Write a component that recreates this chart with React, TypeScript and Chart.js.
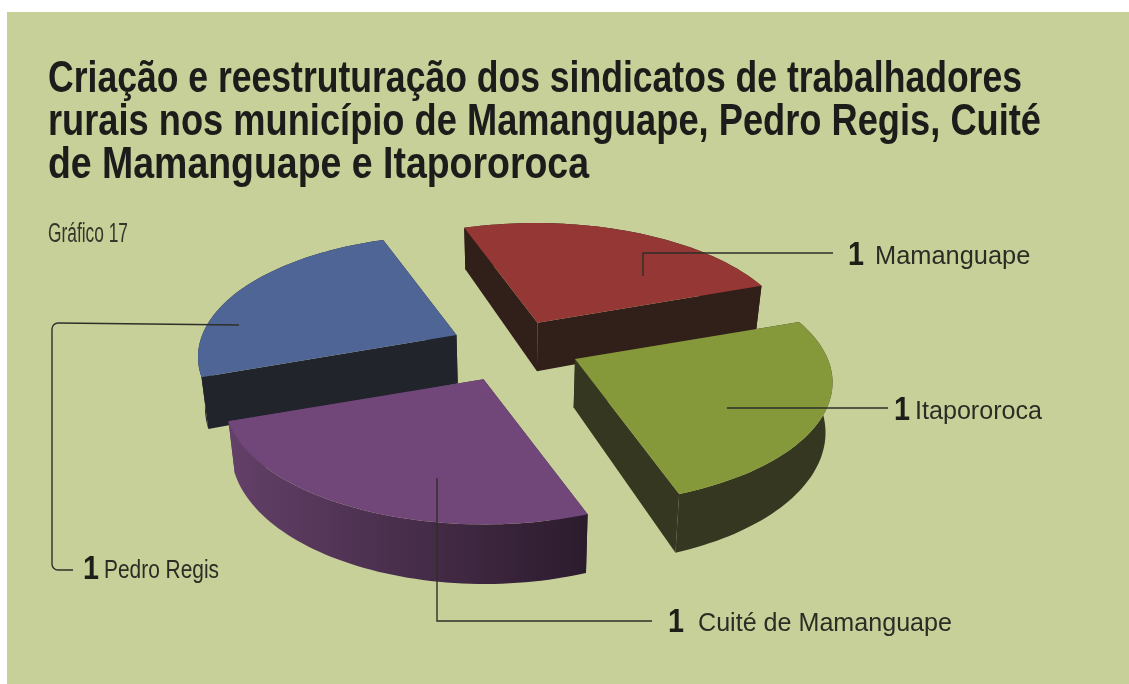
import React, { useEffect, useRef } from "react";
import { Chart, registerables } from "chart.js";

Chart.register(...registerables);

const categories = ["Mamanguape", "Itapororoca", "Cuité de Mamanguape", "Pedro Regis"];
const values = [1, 1, 1, 1];
const topColors = ["#953735", "#86993a", "#71477a", "#4f6596"];
const titleLines = [
  "Criação e reestruturação dos sindicatos de trabalhadores",
  "rurais nos município de Mamanguape, Pedro Regis, Cuité",
  "de Mamanguape e Itapororoca",
];
const chartNote = "Gráfico 17";

// Title layout: baseline and fitted width of each line
const titleBaselines = [92, 135, 178];
const titleWidths = [974, 993, 541];

// Colour of the extruded wall of each slice: [left end, right end]
const sideColors = [
  ["#302019", "#302019"],
  ["#353720", "#353720"],
  ["#634068", "#2c1b2d"],
  ["#22242b", "#22242b"],
];
// Back-to-front painting order of slices
const paintOrder = [0, 3, 1, 2];

// Camera used to project the flat pie onto the tilted page
const EX = [238.5, -39.4];
const EY = [86, 111.5];
const PERSP_X = 0.0647;
const PERSP_Y = 0.174;
const EXPLODE = 0.255;
const DEPTH = 48.5;
const CONVERGE = 0.022;
// Small per-slice placement corrections of the exploded slices
const sliceNudge = [
  [-3, 1],
  [3.5, -3],
  [-2, 3],
  [2, -1],
];

// Callouts: leader line route, then where the value and the name are written
const callouts = [
  { path: [[643, 276], [643, 253], [833, 253]], corner: 0, valueX: 848, nameX: 875, base: 264, nameW: 157 },
  { path: [[727, 408], [888, 408]], corner: 0, valueX: 894, nameX: 915, base: 419, nameW: 127 },
  { path: [[437, 478], [437, 621], [652, 621]], corner: 0, valueX: 668, nameX: 698, base: 631, nameW: 254 },
  { path: [[239, 325], [52, 323], [52, 570], [73, 570]], corner: 6, valueX: 83, nameX: 104, base: 578, nameW: 115 },
];

const project = (ox: number, oy: number, i: number, mid: number, theta: number, r: number) => {
  const sx = ox + sliceNudge[i][0] + (EX[0] * Math.cos(mid) + EY[0] * Math.sin(mid)) * EXPLODE;
  const sy = oy + sliceNudge[i][1] + (EX[1] * Math.cos(mid) + EY[1] * Math.sin(mid)) * EXPLODE;
  const X = r * Math.cos(theta);
  const Y = r * Math.sin(theta);
  const w = 1 + PERSP_X * X - PERSP_Y * Y;
  const x = sx + (X * EX[0] + Y * EY[0]) / w;
  const y = sy + (X * EX[1] + Y * EY[1]) / w;
  return { x, y, bx: x - (x - ox) * CONVERGE, by: y + DEPTH / w };
};

const fillPoly = (ctx: any, poly: number[][]) => {
  ctx.beginPath();
  poly.forEach((p, k) => (k ? ctx.lineTo(p[0], p[1]) : ctx.moveTo(p[0], p[1])));
  ctx.closePath();
  ctx.fill();
};

const pie3d = {
  id: "pie3d",
  beforeDraw(chart: any) {
    const { ctx, width, height } = chart;
    ctx.save();
    ctx.fillStyle = "#ffffff";
    ctx.fillRect(0, 0, width, height);
    ctx.fillStyle = "#c8d09a";
    ctx.fillRect(7, 12, width - 7, height - 12);
    ctx.restore();
  },
  beforeDatasetsDraw(chart: any) {
    const { ctx } = chart;
    const arcs = chart.getDatasetMeta(0).data;
    ctx.save();
    paintOrder.forEach((i) => {
      const el = arcs[i];
      const ox = el.x;
      const oy = el.y;
      const a0 = el.startAngle;
      const a1 = el.endAngle;
      const mid = (a0 + a1) / 2;
      const apex = project(ox, oy, i, mid, a0, 0);
      const rim = [];
      const n = 60;
      for (let k = 0; k <= n; k++) rim.push(project(ox, oy, i, mid, a0 + ((a1 - a0) * k) / n, 1));
      const xs = rim.map((p) => p.x);
      const grad = ctx.createLinearGradient(Math.min(...xs), 0, Math.max(...xs), 0);
      grad.addColorStop(0, sideColors[i][0]);
      grad.addColorStop(1, sideColors[i][1]);
      ctx.fillStyle = grad;
      const first = rim[0];
      const last = rim[n];
      fillPoly(ctx, [[apex.x, apex.y], [first.x, first.y], [first.bx, first.by], [apex.bx, apex.by]]);
      fillPoly(ctx, [[apex.x, apex.y], [last.x, last.y], [last.bx, last.by], [apex.bx, apex.by]]);
      fillPoly(ctx, [...rim.map((p) => [p.x, p.y]), ...rim.slice().reverse().map((p) => [p.bx, p.by])]);
      ctx.fillStyle = el.options.backgroundColor;
      fillPoly(ctx, [[apex.x, apex.y], ...rim.map((p) => [p.x, p.y])]);
    });
    ctx.restore();
    return false;
  },
  afterDraw(chart: any) {
    const { ctx } = chart;
    ctx.save();
    ctx.textBaseline = "alphabetic";
    ctx.fillStyle = "#1c1d1a";
    ctx.font = 'bold 44.5px "Liberation Sans"';
    titleLines.forEach((line, i) => ctx.fillText(line, 48, titleBaselines[i], titleWidths[i]));
    ctx.strokeStyle = "#2e2f28";
    ctx.lineWidth = 1.4;
    callouts.forEach((c, i) => {
      ctx.beginPath();
      ctx.moveTo(c.path[0][0], c.path[0][1]);
      for (let k = 1; k < c.path.length - 1; k++) {
        ctx.arcTo(c.path[k][0], c.path[k][1], c.path[k + 1][0], c.path[k + 1][1], c.corner);
      }
      const last = c.path[c.path.length - 1];
      ctx.lineTo(last[0], last[1]);
      ctx.stroke();
      ctx.fillStyle = "#1d1e18";
      ctx.font = 'bold 33px "Liberation Sans"';
      ctx.fillText(String(values[i]), c.valueX, c.base + 1, 16);
      ctx.fillStyle = "#2b2d25";
      ctx.font = '25.4px "Liberation Sans"';
      ctx.fillText(categories[i], c.nameX, c.base, c.nameW);
    });
    ctx.fillStyle = "#35362a";
    ctx.font = '27px "Liberation Sans"';
    ctx.fillText(chartNote, 48, 242, 80);
    ctx.restore();
  },
};

export default function App() {
  const ref = useRef<HTMLCanvasElement>(null);
  useEffect(() => {
    const chart = new Chart(ref.current as HTMLCanvasElement, {
      type: "pie",
      data: {
        labels: categories,
        datasets: [{ data: values, backgroundColor: topColors, borderWidth: 0 }],
      },
      options: {
        animation: false,
        responsive: false,
        devicePixelRatio: 1,
        layout: { padding: { left: 48, right: 151, top: 190, bottom: 176 } },
        plugins: {
          legend: { display: false },
          tooltip: { enabled: false },
          title: { display: false },
        },
      },
      plugins: [pie3d],
    } as any);
    return () => chart.destroy();
  }, []);
  return (
    <canvas
      ref={ref}
      width={1129}
      height={684}
      style={{ position: "fixed", left: 0, top: 0, width: 1129, height: 684, display: "block" }}
    />
  );
}
